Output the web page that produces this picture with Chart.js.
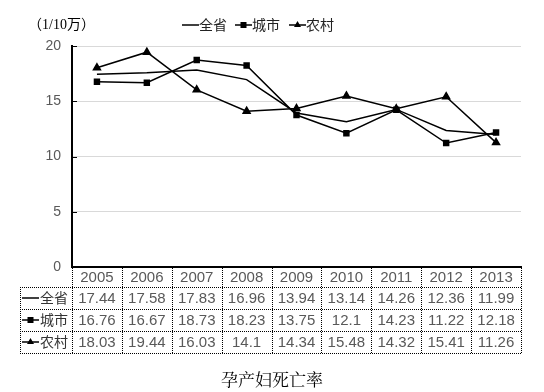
<!DOCTYPE html>
<html lang="zh">
<head>
  <meta charset="UTF-8">
  <title>孕产妇死亡率</title>
  <script src="https://cdn.jsdelivr.net/npm/chart.js"></script>
  <style>
    body {
      margin: 0;
      background-color: #fff;
    }
  </style>
</head>
<body>
  <canvas id="mmrChart" width="544" height="392"></canvas>
  <script>
    const years = ["2005", "2006", "2007", "2008", "2009", "2010", "2011", "2012", "2013"];
    const province = [17.44, 17.58, 17.83, 16.96, 13.94, 13.14, 14.26, 12.36, 11.99];
    const city = [16.76, 16.67, 18.73, 18.23, 13.75, 12.1, 14.23, 11.22, 12.18];
    const rural = [18.03, 19.44, 16.03, 14.1, 14.34, 15.48, 14.32, 15.41, 11.26];
    const yTicks = [0, 5, 10, 15, 20];

    const seriesNames = ["全省", "城市", "农村"];
    const seriesMarks = ["none", "rect", "triangle"];

    const cjk = '"Noto Sans CJK SC", sans-serif';
    const latin = '"Liberation Sans", Arial, sans-serif';

    // small legend key: a short line with a marker in the middle
    function drawKey(ctx, x, y, mark) {
      ctx.save();
      ctx.setLineDash([]);
      ctx.strokeStyle = "#000";
      ctx.fillStyle = "#000";
      ctx.lineWidth = 1.5;
      ctx.beginPath();
      ctx.moveTo(x, y);
      ctx.lineTo(x + 17, y);
      ctx.stroke();
      const cx = x + 8.5;
      if (mark === "rect") {
        ctx.fillRect(cx - 3, y - 3, 6, 6);
      } else if (mark === "triangle") {
        ctx.beginPath();
        ctx.moveTo(cx, y - 4);
        ctx.lineTo(cx + 3.5, y + 2);
        ctx.lineTo(cx - 3.5, y + 2);
        ctx.closePath();
        ctx.fill();
      }
      ctx.restore();
    }

    const extras = {
      id: "extras",
      afterDraw(chart) {
        const ctx = chart.ctx;
        const xs = chart.scales.x;
        const ys = chart.scales.y;
        const area = chart.chartArea;

        // inner tick marks on the y axis
        ctx.save();
        ctx.strokeStyle = "#000";
        ctx.lineWidth = 1;
        yTicks.forEach(v => {
          const y = Math.round(ys.getPixelForValue(v)) + 0.5;
          ctx.beginPath();
          ctx.moveTo(area.left, y);
          ctx.lineTo(area.left + 5, y);
          ctx.stroke();
        });
        ctx.restore();

        // unit and top legend
        ctx.save();
        ctx.fillStyle = "#000";
        ctx.textBaseline = "middle";
        ctx.font = '14px "Liberation Serif", "Noto Sans CJK SC", serif';
        ctx.fillText("（1/10万）", 28, 25);
        ctx.font = "14px " + cjk;
        ctx.fillStyle = "#222";
        const legendX = [182, 235, 289];
        seriesNames.forEach((name, i) => {
          drawKey(ctx, legendX[i], 25, seriesMarks[i]);
          ctx.fillText(name, legendX[i] + 17, 25);
        });
        ctx.restore();

        // data table
        const n = years.length;
        const colW = xs.width / n;
        const tableLeft = 20;
        const top = area.bottom;
        const rowTops = [top, top + 20, top + 42, top + 64, top + 86];
        const rows = [province, city, rural];

        ctx.save();
        ctx.strokeStyle = "#000";
        ctx.lineWidth = 1;
        ctx.setLineDash([1, 1]);
        for (let r = 1; r < rowTops.length; r++) {
          const y = Math.round(rowTops[r]) + 0.5;
          ctx.beginPath();
          ctx.moveTo(tableLeft, y);
          ctx.lineTo(area.right, y);
          ctx.stroke();
        }
        ctx.beginPath();
        ctx.moveTo(tableLeft + 0.5, rowTops[1]);
        ctx.lineTo(tableLeft + 0.5, rowTops[4]);
        ctx.stroke();
        for (let i = 0; i <= n; i++) {
          const x = Math.round(xs.getPixelForValue(i) - colW / 2) + 0.5;
          ctx.beginPath();
          ctx.moveTo(x, top + 1);
          ctx.lineTo(x, rowTops[4]);
          ctx.stroke();
        }
        ctx.restore();

        ctx.save();
        ctx.textAlign = "center";
        ctx.textBaseline = "middle";
        ctx.fillStyle = "#595959";
        ctx.font = "15px " + latin;
        years.forEach((yr, i) => {
          ctx.fillText(yr, xs.getPixelForValue(i), (rowTops[0] + rowTops[1]) / 2 + 1);
        });
        rows.forEach((vals, r) => {
          const cy = (rowTops[r + 1] + rowTops[r + 2]) / 2 + 1;
          vals.forEach((v, i) => {
            ctx.fillText(String(v), xs.getPixelForValue(i), cy);
          });
          drawKey(ctx, 22, cy - 1, seriesMarks[r]);
          ctx.save();
          ctx.textAlign = "left";
          ctx.fillStyle = "#333";
          ctx.font = "14px " + cjk;
          ctx.fillText(seriesNames[r], 40, cy - 1);
          ctx.restore();
        });
        ctx.restore();

        // title under the table
        ctx.save();
        ctx.textAlign = "center";
        ctx.textBaseline = "middle";
        ctx.fillStyle = "#000";
        ctx.font = '17px "Noto Serif CJK SC", "Noto Sans CJK SC", serif';
        ctx.fillText("孕产妇死亡率", 272, 380);
        ctx.restore();
      }
    };

    new Chart(document.getElementById("mmrChart"), {
      type: "line",
      data: {
        labels: years,
        datasets: [
          {
            label: seriesNames[0],
            data: province,
            borderColor: "#000",
            borderWidth: 1.5,
            pointRadius: 0,
            tension: 0
          },
          {
            label: seriesNames[1],
            data: city,
            borderColor: "#000",
            backgroundColor: "#000",
            borderWidth: 1.5,
            pointStyle: "rect",
            pointRadius: 3.5,
            tension: 0
          },
          {
            label: seriesNames[2],
            data: rural,
            borderColor: "#000",
            backgroundColor: "#000",
            borderWidth: 1.5,
            pointStyle: "triangle",
            pointRadius: 4,
            tension: 0
          }
        ]
      },
      options: {
        responsive: false,
        animation: false,
        layout: {
          padding: { left: 0, right: 23, top: 46, bottom: 125 }
        },
        plugins: {
          legend: { display: false },
          tooltip: { enabled: false }
        },
        scales: {
          x: {
            offset: true,
            grid: { display: false },
            border: { color: "#000", width: 2 },
            ticks: { display: false },
            afterFit: s => { s.height = 0; }
          },
          y: {
            min: 0,
            max: 20,
            grid: { color: "#d9d9d9", lineWidth: 1, drawTicks: false },
            border: { color: "#000", width: 2 },
            ticks: {
              stepSize: 5,
              padding: 11,
              color: "#595959",
              font: { family: "Liberation Sans", size: 14 }
            },
            afterFit: s => { s.width = 72; }
          }
        }
      },
      plugins: [extras]
    });
  </script>
</body>
</html>
